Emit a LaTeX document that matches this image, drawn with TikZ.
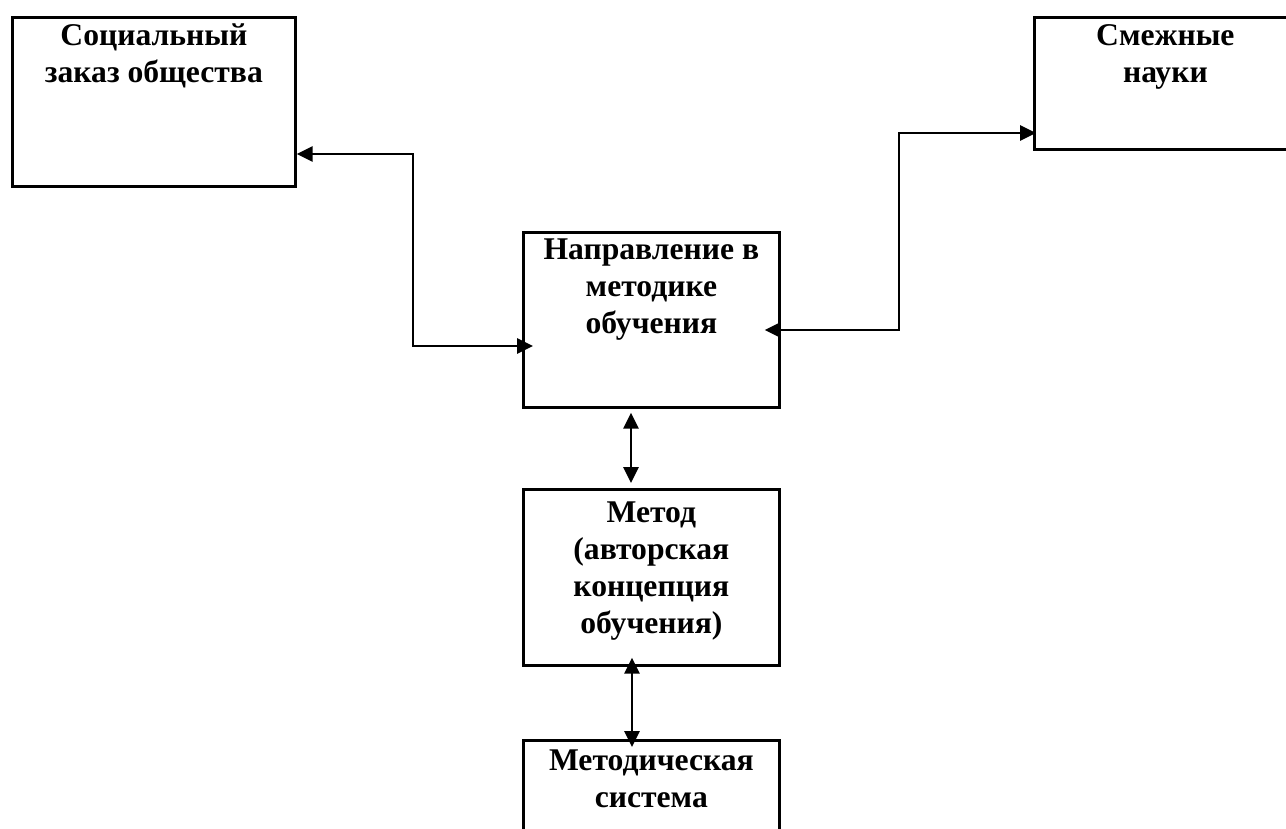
\documentclass[tikz,border=0pt]{standalone}
\usepackage{fontspec}
\setmainfont{Liberation Serif}
\usetikzlibrary{arrows.meta}
\tikzset{
  blok/.style={draw, line width=1.6pt, inner sep=0pt},
  nadpis/.style={inner sep=0pt, align=center, font=\fontsize{18}{21}\selectfont\bfseries},
  svyaz/.style={line width=1.6pt, {Triangle[length=9pt,width=8.5pt]}-{Triangle[length=9pt,width=8.5pt]}}
}
\begin{document}
\begin{tikzpicture}[x=0.02cm, y=-0.02cm]
  \useasboundingbox (0,0) rectangle (1286,829);
  \clip (0,0) rectangle (1286,829);
  % boxes
  \node[blok, anchor=north west, minimum width=5.66cm, minimum height=3.38cm] (zakaz) at (11,16) {};
  \node[blok, anchor=north west, minimum width=5.24cm, minimum height=2.64cm] (nauki) at (1033,16) {};
  \node[blok, anchor=north west, minimum width=5.12cm, minimum height=3.5cm] (napr) at (522,231) {};
  \node[blok, anchor=north west, minimum width=5.12cm, minimum height=3.52cm] (metod) at (522,488) {};
  \node[blok, anchor=north west, minimum width=5.12cm, minimum height=2.6cm] (sistema) at (522,739) {};
  % texts (base = last line)
  \node[nadpis, anchor=base] (zakaztxt) at (zakaz.north |- 0,82) {Социальный\\заказ общества};
  \node[nadpis, anchor=base] (naukitxt) at (nauki.north |- 0,82) {Смежные\\науки};
  \node[nadpis, anchor=base] (naprtxt) at (napr.north |- 0,333) {Направление в\\методике\\обучения};
  \node[nadpis, anchor=base] (metodtxt) at (metod.north |- 0,633) {Метод\\(авторская\\концепция\\обучения)};
  \node[nadpis, anchor=base] (sistematxt) at (sistema.north |- 0,807) {Методическая\\система};
  % connectors
  \draw[svyaz] (zakaz.east |- 0,154) -- (413,154) -- (413,346) -- ([xshift=0.22cm]napr.west |- 0,346);
  \draw[svyaz] ([xshift=-0.32cm]napr.east |- 0,330) -- (899,330) -- (899,133) -- ([xshift=0.06cm]nauki.west |- 0,133);
  \draw[svyaz] ([yshift=-0.08cm]napr.south -| 631,0) -- ([yshift=0.1cm]metod.north -| 631,0);
  \draw[svyaz] ([yshift=0.18cm]metod.south -| 632,0) -- ([yshift=-0.16cm]sistema.north -| 632,0);
\end{tikzpicture}
\end{document}
